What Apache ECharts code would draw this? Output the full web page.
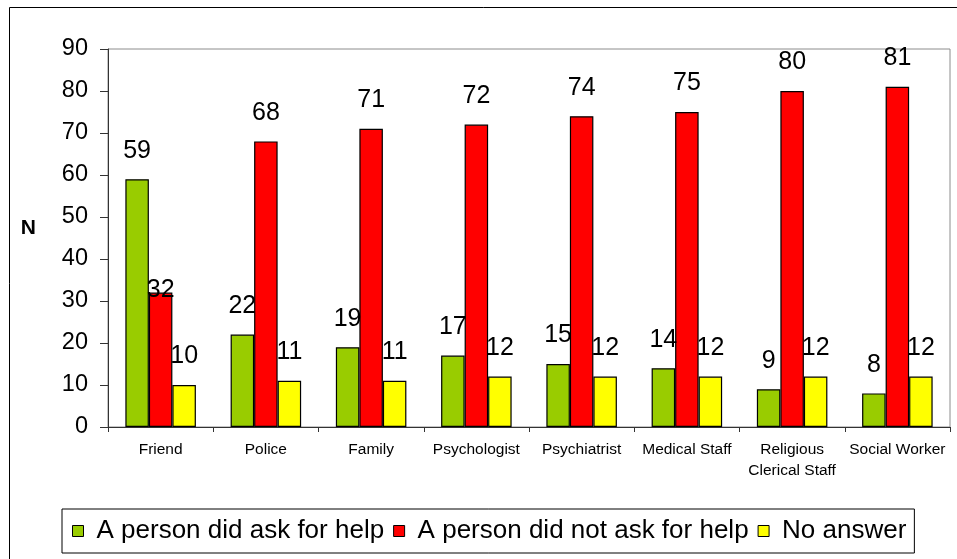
<!DOCTYPE html>
<html>
<head>
<meta charset="utf-8">
<script src="https://cdn.jsdelivr.net/npm/echarts@6/dist/echarts.min.js"></script>
<style>
html,body{margin:0;padding:0;background:#fff;}
#chart{width:957px;height:559px;}
</style>
</head>
<body>
<div id="chart"></div>
<script>
const categories = ['Friend','Police','Family','Psychologist','Psychiatrist','Medical Staff','Religious\nClerical Staff','Social Worker'];
const seriesNames = ['A person did ask for help','A person did not ask for help','No answer'];
const askedHelp = [59,22,19,17,15,14,9,8];
const notAskedHelp = [32,68,71,72,74,75,80,81];
const noAnswer = [10,11,11,12,12,12,12,12];
const yTicks = {min:0, max:90, interval:10};

const colors = ['#99CC00','#FF0000','#FFFF00'];
const FONT = 'Liberation Sans, Arial, sans-serif';

function makeSeries(name, values, color, overrides) {
  return {
    name: name,
    type: 'bar',
    barGap: '0%',
    barCategoryGap: '33%',
    itemStyle: {color: color, borderColor: '#000', borderWidth: 1.2},
    label: {show: true, position: 'top', distance: 16, color: '#000', fontSize: 25, fontFamily: FONT},
    data: values.map((v, i) => overrides && overrides[i] ? Object.assign({value: v}, overrides[i]) : v)
  };
}

const chart = echarts.init(document.getElementById('chart'), null, {renderer: 'canvas'});
chart.setOption({
  animation: false,
  backgroundColor: '#fff',
  textStyle: {fontFamily: FONT},
  graphic: [{
    type: 'rect', silent: true,
    shape: {x: 9.5, y: 7.5, width: 1200, height: 1200},
    style: {fill: 'none', stroke: '#000', lineWidth: 1}
  }],
  grid: {left: 108, top: 49, right: 7, bottom: 132, show: true, borderColor: '#8c8c8c', borderWidth: 1, containLabel: false},
  legend: {
    data: seriesNames,
    left: 62, top: 509,
    orient: 'horizontal',
    itemWidth: 11, itemHeight: 11, itemGap: 9,
    icon: 'rect',
    itemStyle: {borderColor: '#000', borderWidth: 1},
    borderColor: '#000', borderWidth: 1,
    padding: [9, 8, 9, 10],
    textStyle: {fontSize: 26, color: '#000', fontFamily: FONT, padding: [0, 0, 0, 8]}
  },
  xAxis: {
    type: 'category',
    data: categories,
    axisLine: {lineStyle: {color: '#333', width: 1}},
    axisTick: {show: true, length: 5, alignWithLabel: false, lineStyle: {color: '#333'}},
    axisLabel: {color: '#000', fontSize: 15.5, fontFamily: FONT, margin: 12, lineHeight: 21, interval: 0},
    splitLine: {show: false}
  },
  yAxis: {
    type: 'value',
    min: yTicks.min, max: yTicks.max, interval: yTicks.interval,
    name: 'N',
    nameLocation: 'middle',
    nameRotate: 0,
    nameGap: 72,
    nameTextStyle: {fontSize: 21, fontWeight: 'bold', color: '#000', fontFamily: FONT, verticalAlign: 'bottom', lineHeight: 20},
    axisLine: {show: true, lineStyle: {color: '#333', width: 1}},
    axisTick: {show: true, length: 8, inside: false, lineStyle: {color: '#333'}},
    axisLabel: {color: '#000', fontSize: 23.5, fontFamily: FONT, margin: 20},
    splitLine: {show: false}
  },
  series: [
    makeSeries(seriesNames[0], askedHelp, colors[0]),
    makeSeries(seriesNames[1], notAskedHelp, colors[1], {0: {label: {distance: -10.5}}}),
    makeSeries(seriesNames[2], noAnswer, colors[2])
  ]
});
</script>
</body>
</html>
